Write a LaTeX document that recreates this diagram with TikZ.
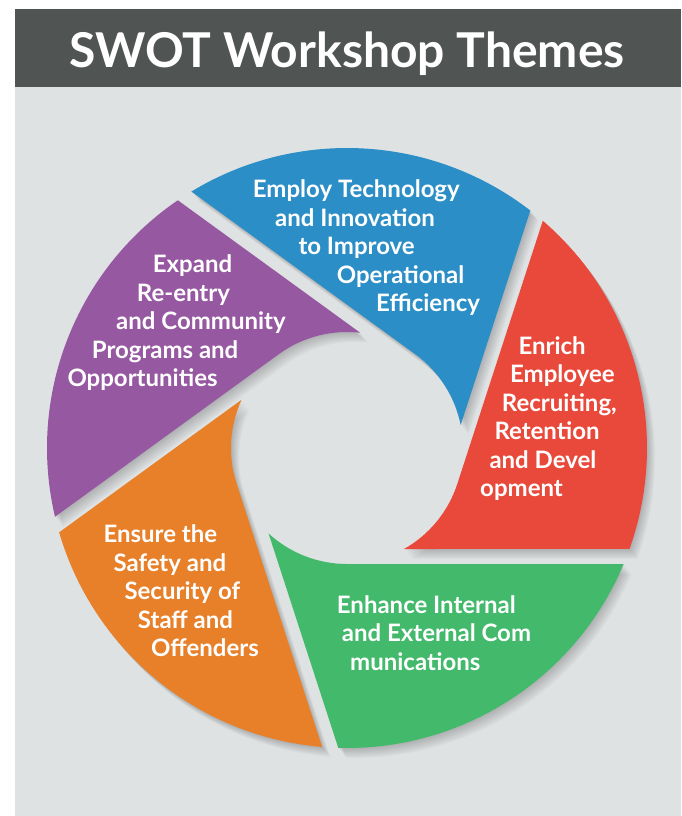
\documentclass[tikz,border=0pt]{standalone}
\usepackage{fontspec}
\setmainfont{Lato}
\definecolor{headgray}{HTML}{505453}
\definecolor{panelgray}{HTML}{DFE2E3}
\definecolor{swotblue}{HTML}{2B8EC6}
\definecolor{swotred}{HTML}{E9493B}
\definecolor{swotgreen}{HTML}{43B96B}
\definecolor{swotorange}{HTML}{E78029}
\definecolor{swotpurple}{HTML}{9658A1}
\begin{document}
\begin{tikzpicture}[x=1pt,y=1pt,line join=round]
	\tikzset{theme/.style={font=\fontsize{24}{28.5}\selectfont\bfseries,text=white,align=left,anchor=base west,inner sep=0pt}}
	\useasboundingbox (0,0) rectangle (681,-816);
	\fill[white] (0,0) rectangle (681,-816);
	\fill[panelgray] (15,-87) rectangle (681,-816);
	\fill[headgray] (15,-9) rectangle (681,-87);
	\node[font=\fontsize{48}{50}\selectfont\bfseries,text=white,anchor=base,inner sep=0pt] (title) at (347,-67) {SWOT Workshop Themes};
	% wheel: outer radius 300, hole radius 116, gap 15
	\begin{scope}[shift={(347,-448)}]
		\def\tipa{29.46}\def\outa{70.33}\def\tana{67.25}
		\foreach \a in {-18,54,126,198,270}
		\foreach \k in {1,...,9}
		\fill[black,opacity=0.025,shift={(0.9*\k,-1.1*\k)}] (\a+\tipa:116) -- (\a+\outa:300) arc[start angle=\a+\outa,end angle=\a+72+\tana,radius=300] -- (\a+72:116) arc[start angle=\a+72,end angle=\a+\tipa,radius=116] -- cycle;
		\foreach \a/\c in {-18/swotblue,54/swotpurple,126/swotorange,198/swotgreen,270/swotred}
		\fill[\c] (\a+\tipa:116) -- (\a+\outa:300) arc[start angle=\a+\outa,end angle=\a+72+\tana,radius=300] -- (\a+72:116) arc[start angle=\a+72,end angle=\a+\tipa,radius=116] -- cycle;
	\end{scope}
	% last line baselines
	\node[theme] (tech) at (252.7,-311.7) {Employ Technology\\\hspace*{22.3pt}and Innovation\\\hspace*{45.6pt}to Improve\\\hspace*{84pt}Operational\\\hspace*{123.3pt}Efficiency};
	\node[theme] (people) at (480,-496.7) {\hspace*{38.3pt}Enrich\\\hspace*{30pt}Employee\\\hspace*{21.7pt}Recruiting,\\\hspace*{14.3pt}Retention\\\hspace*{9.3pt}and Devel\\opment};
	\node[theme] (comms) at (336.7,-670) {Enhance Internal\\\hspace*{5pt}and External Com\\\hspace*{13.3pt}munications};
	\node[theme] (safety) at (103.3,-656.7) {Ensure the\\\hspace*{10pt}Safety and\\\hspace*{21pt}Security of\\\hspace*{34.4pt}Staff and\\\hspace*{47.7pt}Offenders};
	\node[theme] (reentry) at (67.3,-386.7) {\hspace*{85.4pt}Expand\\\hspace*{69.4pt}Re-entry\\\hspace*{48.7pt}and Community\\\hspace*{24.4pt}Programs and\\Opportunities};
\end{tikzpicture}
\end{document}
